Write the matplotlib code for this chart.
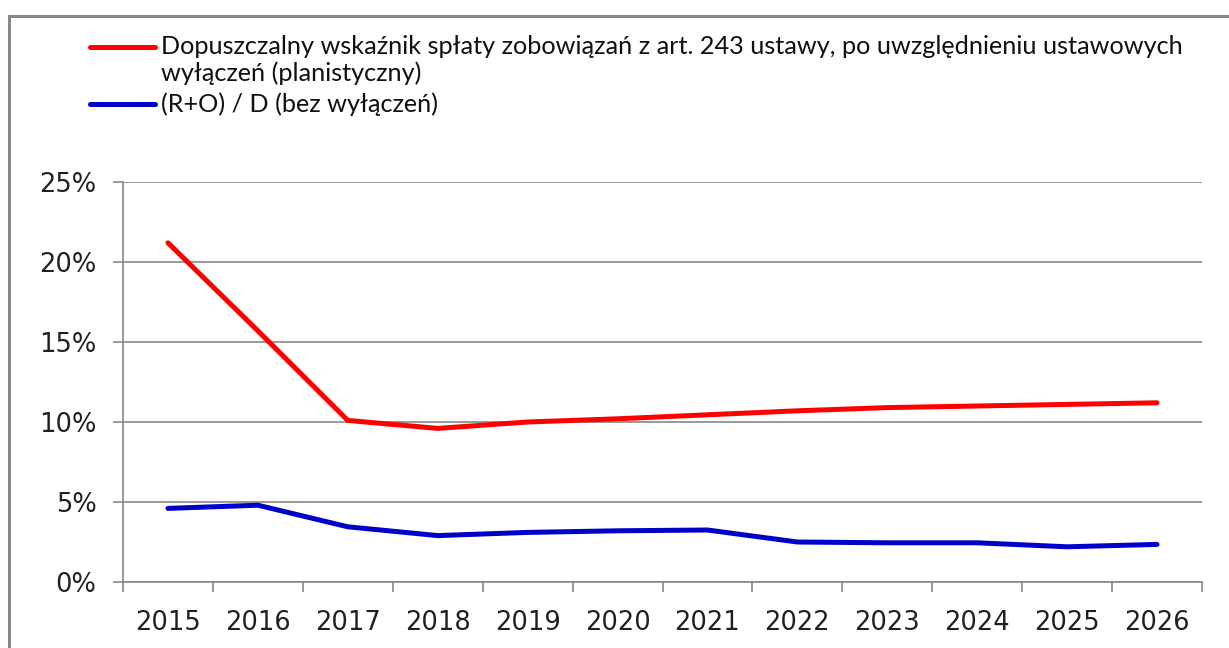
import numpy as np
import matplotlib
matplotlib.use('Agg')
from matplotlib import pyplot as plt
from matplotlib.lines import Line2D
from matplotlib.patches import Rectangle
from matplotlib.ticker import FuncFormatter

years = ['2015', '2016', '2017', '2018', '2019', '2020',
         '2021', '2022', '2023', '2024', '2025', '2026']
dopuszczalny = [21.2, 15.7, 10.1, 9.6, 10.0, 10.2, 10.45, 10.7, 10.9, 11.0, 11.1, 11.2]
ro_d = [4.6, 4.8, 3.45, 2.9, 3.1, 3.2, 3.25, 2.5, 2.45, 2.45, 2.2, 2.35]
labels = ['Dopuszczalny wskaźnik spłaty zobowiązań z art. 243 ustawy, po uwzględnieniu ustawowych\nwyłączeń (planistyczny)',
          '(R+O) / D (bez wyłączeń)']
colors = ['#ff0000', '#0000c8']
yticks = [0, 5, 10, 15, 20, 25]

W, H = 1229, 648
fig = plt.figure(figsize=(W/100, H/100), dpi=100)
ax = fig.add_axes([123/W, 1-582/H, (1202-123)/W, 400/H])

x = np.arange(len(years))
ax.plot(x, dopuszczalny, color=colors[0], lw=3.6, solid_capstyle='round', solid_joinstyle='round')
ax.plot(x, ro_d, color=colors[1], lw=3.6, solid_capstyle='round', solid_joinstyle='round')

ax.set_xlim(-0.5, len(years)-0.5)
ax.set_ylim(0, 25)
ax.set_yticks(yticks)
ax.yaxis.set_major_formatter(FuncFormatter(lambda v, p: '%d%%' % v))
ax.set_xticks(x)
ax.set_xticklabels(years)
ax.set_xticks(np.arange(-0.5, len(years)), minor=True)
ax.tick_params(axis='x', which='major', length=0, pad=20, labelsize=18.5, labelcolor='#202020')
ax.tick_params(axis='x', which='minor', length=7, width=1.2, color='#888888')
ax.tick_params(axis='y', length=7, width=1.2, color='#888888', pad=12, labelsize=18.5, labelcolor='#202020')
ax.grid(axis='y', color='#888888', lw=1.2)
ax.set_axisbelow(True)
for s in ['top', 'right']:
    ax.spines[s].set_visible(False)
for s in ['left', 'bottom']:
    ax.spines[s].set_color('#888888')
    ax.spines[s].set_linewidth(1.2)

# legend drawn by hand (handle aligned with first text line)
leg_y = [1-47/H, 1-104/H]
for lab, col, yy in zip(labels, colors, leg_y):
    fig.add_artist(Line2D([90/W, 155/W], [yy, yy], color=col, lw=3.6, solid_capstyle='round'))
    fig.text(161/W, yy + 12/H, lab, fontsize=18.2, family='Lato', color='#101010',
             va='top', ha='left', linespacing=1.15)

# outer chart border
fig.add_artist(Rectangle((9/W, -0.2), 1.2, 1.2 - 16/H, transform=fig.transFigure,
                         fill=False, edgecolor='#888888', lw=2.2, clip_on=False))

fig.savefig('out.png', dpi=100)
